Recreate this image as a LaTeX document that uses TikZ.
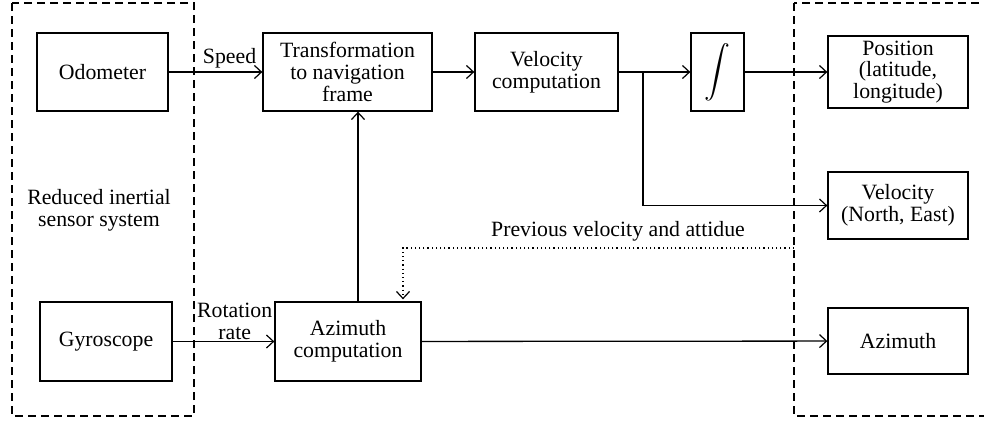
\documentclass[tikz,border=0pt]{standalone}
\usepackage{amsmath}
\usepackage{graphicx}
\usepackage{fontspec}
\setmainfont{Liberation Serif}
\usepackage{tikz}
\usetikzlibrary{arrows.meta}
\usetikzlibrary{positioning}

\begin{document}
\begin{tikzpicture}[x=1pt,y=-1pt,line width=1.3pt,
	>={Straight Barb[length=7pt,width=13pt,line width=1.2pt]},
	font=\fontsize{21.8}{21.8}\selectfont]
	\useasboundingbox (0,0) rectangle (984,421);

	% dashed groups
	\draw[dash pattern=on 8pt off 5pt] (12,3) rectangle (194,416);
	\draw[dash pattern=on 8pt off 5pt] (794,3) rectangle (1000,416);
	\node[align=center] (ris) at (99,210) {Reduced inertial\\sensor system};

	\begin{scope}[every node/.style={draw, align=center, inner sep=2pt}]
		\node[minimum width=131, minimum height=78] (odo) at (102.5,72) {Odometer};
		\node[minimum width=132, minimum height=79] (gyro) at (106,341.5) {Gyroscope};
		\node[minimum width=169, minimum height=78] (trans) at (347.5,72) {Transformation\\to navigation\\frame};
		\node[minimum width=146, minimum height=79] (azc) at (348,341.5) {Azimuth\\computation};
		\node[minimum width=143, minimum height=78] (velc) at (546.5,72) {Velocity\\computation};
		\node[minimum width=53, minimum height=78] (integ) at (717.5,72) {\scalebox{1.25}{$\displaystyle\int$}};
		\node[minimum width=140, minimum height=72] (pos) at (898,72) {Position\\(latitude,\\longitude)};
		\node[minimum width=140, minimum height=67] (vel) at (898,205.5) {Velocity\\(North, East)};
		\node[minimum width=140, minimum height=66] (azo) at (898,341) {Azimuth};
	\end{scope}

	\coordinate (br) at (643,72);
	\coordinate (fb) at (794,248);

	\begin{scope}[every node/.style={inner sep=3pt}]
		\draw[->] (odo) -- node[above, pos=0.65] (spd) {Speed} (trans);
		\draw[->] (gyro) -- node[above, pos=0.61, align=center, inner sep=1pt] (rot) {Rotation\\rate} (azc);
		\draw[->] (trans) -- (velc);
		\draw (velc) -- (br);
		\draw[->] (br) -- (integ);
		\draw[->] (br) |- (vel.west);
		\draw[->] (integ) -- (pos);
		\draw[->] (azc) -- (azo);
		\draw[->] ([xshift=10]azc.north) -- ([xshift=10]azc.north |- trans.south);
		\draw[->, dash pattern=on 1.2pt off 3pt, shorten >=2pt] (fb) -| ([xshift=55]azc.north);
		\node (prev) at (618,231) {Previous velocity and attidue};
	\end{scope}
\end{tikzpicture}
\end{document}
